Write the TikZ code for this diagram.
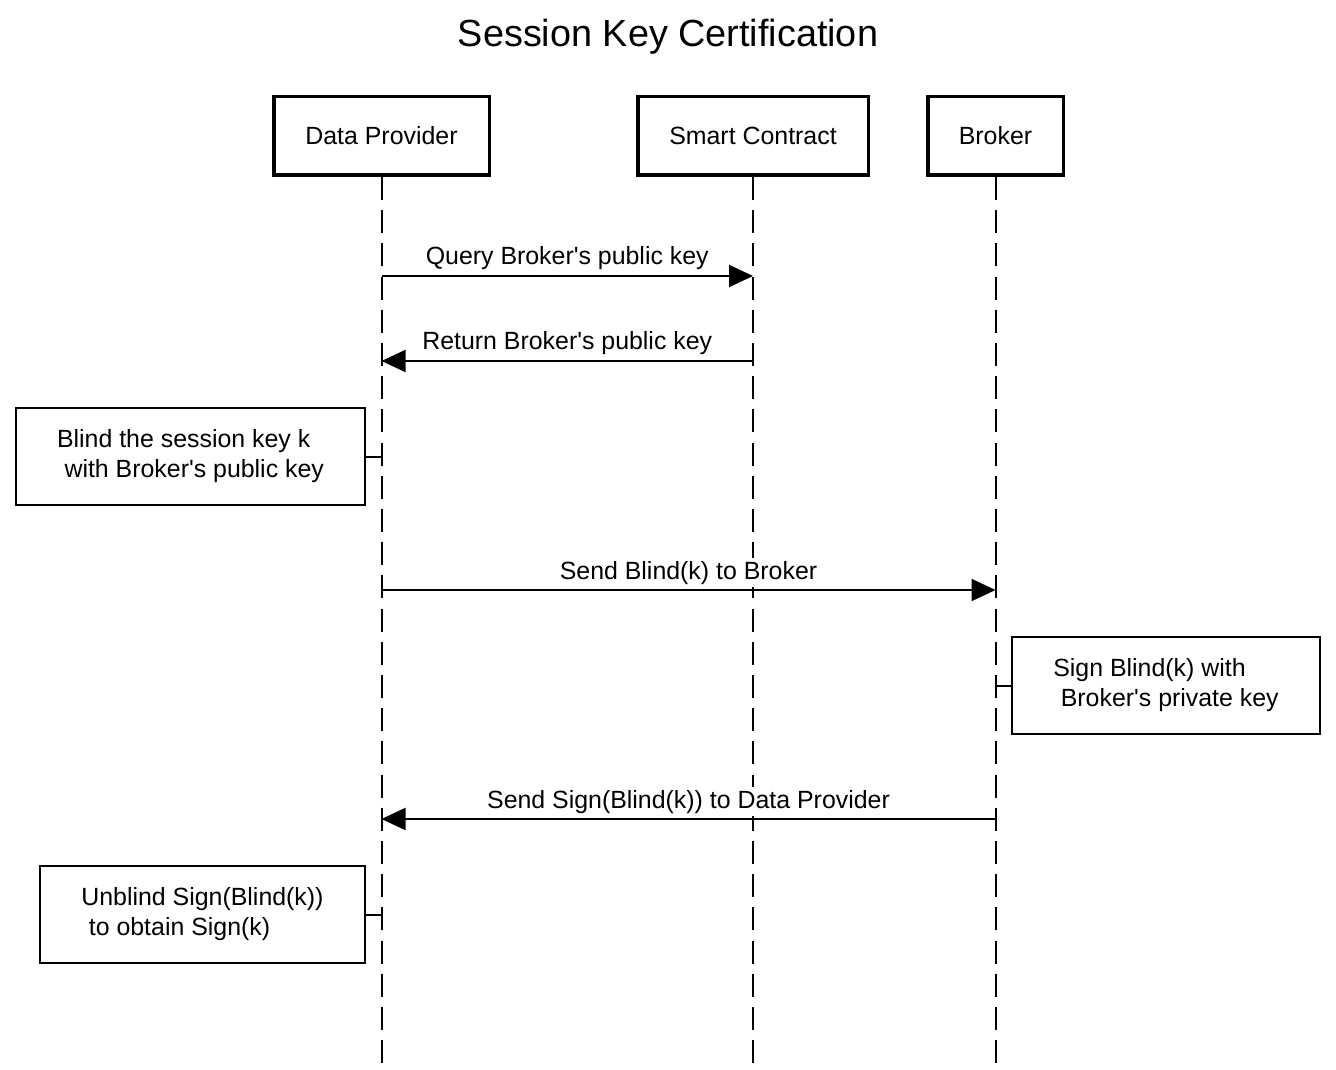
\documentclass[tikz,border=0pt]{standalone}
\usepackage{fontspec}
\setmainfont{Liberation Sans}
\usetikzlibrary{arrows.meta,positioning}

\begin{document}
\begin{tikzpicture}[x=0.5pt, y=-0.5pt, thick,
    every node/.style={font=\fontsize{12.45}{15}\selectfont},
    actor/.style={draw, line width=1.75pt, minimum height=39.25pt, inner sep=0pt},
    note/.style={draw, line width=1pt, minimum height=48.5pt, align=left, inner sep=0pt},
    lifeline/.style={line width=1pt, dash pattern=on 11.5pt off 5.1pt},
    msg/.style={line width=1pt, -{Triangle[length=12pt, width=11pt]}},
    msglabel/.style={anchor=base, yshift=5.5pt, fill=white, inner xsep=1pt, inner ysep=1.5pt}]
    \useasboundingbox (0,0) rectangle (1336,1069);

    % Title
    \node[anchor=base, font=\fontsize{18.9}{22}\selectfont] (title) at (668,47) {Session Key Certification};

    % Participants
    \node[actor, minimum width=107.75pt] (dp) at (381.5,136) {Data Provider};
    \node[actor, minimum width=115.25pt] (sc) at (753,136) {Smart Contract};
    \node[actor, minimum width=67.75pt] (br) at (995.5,136) {Broker};

    % Rows of the messages
    \coordinate (bottom) at (0,1064);
    \coordinate (m1) at (0,276);
    \coordinate (m2) at (0,361);
    \coordinate (m3) at (0,590);
    \coordinate (m4) at (0,819);

    % Lifelines
    \foreach \p in {dp,sc,br}
        \draw[lifeline] (\p.south) -- (\p.south |- bottom);

    % Messages
    \draw[msg] (dp |- m1) -- node[msglabel] {Query Broker\textquotesingle s public key} (sc |- m1);
    \draw[msg] (sc |- m2) -- node[msglabel] {Return Broker\textquotesingle s public key} (dp |- m2);
    \draw[msg] (dp |- m3) -- node[msglabel] {Send Blind(k) to Broker} (br |- m3);
    \draw[msg] (br |- m4) -- node[msglabel] {Send Sign(Blind(k)) to Data Provider} (dp |- m4);

    % Notes
    \node[note, minimum width=174.5pt] (blind) at (190.5,456.5)
        {Blind the session key k\\\hspace*{0.3em}with Broker\textquotesingle s public key};
    \node[note, minimum width=154pt] (sign) at (1166,685.5)
        {Sign Blind(k) with\\\hspace*{0.3em}Broker\textquotesingle s private key};
    \node[note, minimum width=162.5pt] (unblind) at (202.5,914.5)
        {Unblind Sign(Blind(k))\\\hspace*{0.3em}to obtain Sign(k)};

    \draw[line width=1pt] (blind.east) -- (blind.east -| dp);
    \draw[line width=1pt] (sign.west) -- (sign.west -| br);
    \draw[line width=1pt] (unblind.east) -- (unblind.east -| dp);
\end{tikzpicture}
\end{document}
